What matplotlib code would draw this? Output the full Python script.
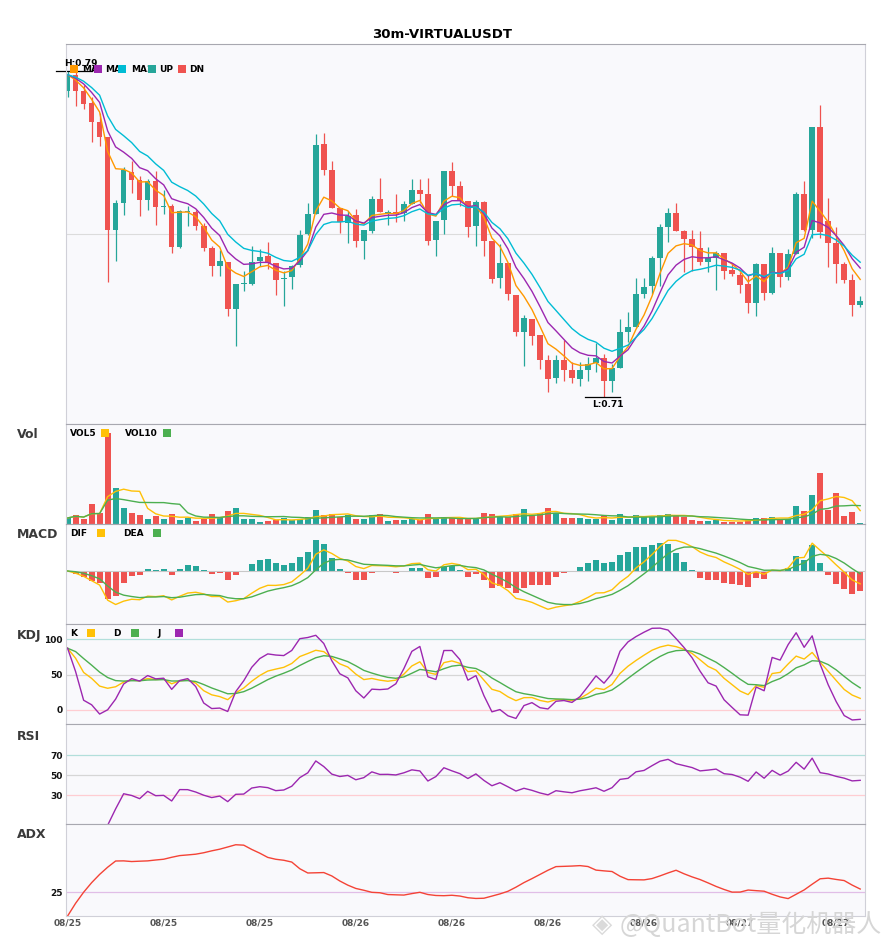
import matplotlib
matplotlib.use("Agg")
import matplotlib.pyplot as plt
from matplotlib.patches import Rectangle
from matplotlib.transforms import Bbox, TransformedBbox
from matplotlib.ticker import MultipleLocator
import numpy as np
import pandas as pd

# ---- data (30m candles) ----
symbol = "VIRTUALUSDT"
interval = "30m"
start_time = "2025-08-25 08:00"

opens = [
    .7851, .7892, .7852, .7823, .7775, .7738, .7511, .7576, .7654, .7633,
    .7584, .7630, .7567, .7569, .7469, .7554, .7556, .7520, .7467, .7423,
    .7432, .7318, .7378, .7378, .7434, .7446, .7431, .7390, .7396, .7425,
    .7500, .7549, .7723, .7659, .7564, .7529, .7547, .7484, .7508, .7586,
    .7552, .7556, .7553, .7574, .7610, .7598, .7486, .7535, .7655, .7618,
    .7583, .7520, .7579, .7484, .7393, .7431, .7352, .7261, .7292, .7253,
    .7192, .7148, .7192, .7168, .7146, .7168, .7185, .7197, .7141, .7172,
    .7260, .7272, .7353, .7374, .7443, .7518, .7552, .7508, .7488, .7466,
    .7433, .7443, .7455, .7413, .7400, .7378, .7331, .7427, .7356, .7454,
    .7396, .7451, .7598, .7512, .7764, .7533, .7478, .7427, .7388, .7327,
]
highs = [
    .7900, .7901, .7867, .7838, .7798, .7740, .7584, .7666, .7680, .7643,
    .7636, .7655, .7610, .7574, .7560, .7569, .7561, .7529, .7472, .7462,
    .7432, .7378, .7410, .7472, .7465, .7481, .7431, .7411, .7424, .7512,
    .7578, .7747, .7750, .7681, .7564, .7557, .7563, .7510, .7594, .7639,
    .7561, .7600, .7583, .7635, .7636, .7639, .7534, .7655, .7677, .7631,
    .7583, .7584, .7582, .7484, .7476, .7431, .7352, .7302, .7292, .7253,
    .7204, .7203, .7242, .7188, .7186, .7200, .7234, .7207, .7182, .7292,
    .7309, .7393, .7394, .7446, .7525, .7566, .7576, .7512, .7510, .7508,
    .7470, .7459, .7455, .7431, .7407, .7400, .7431, .7427, .7470, .7454,
    .7463, .7605, .7632, .7764, .7818, .7590, .7517, .7432, .7402, .7349,
]
lows = [
    .7837, .7814, .7809, .7726, .7716, .7384, .7435, .7547, .7602, .7545,
    .7561, .7523, .7549, .7455, .7467, .7520, .7512, .7459, .7398, .7398,
    .7300, .7227, .7361, .7375, .7423, .7416, .7352, .7325, .7366, .7419,
    .7498, .7549, .7647, .7564, .7503, .7478, .7469, .7439, .7504, .7555,
    .7522, .7530, .7534, .7574, .7578, .7473, .7447, .7500, .7594, .7569,
    .7494, .7472, .7447, .7380, .7368, .7340, .7251, .7178, .7229, .7170,
    .7114, .7136, .7139, .7136, .7129, .7141, .7163, .7101, .7113, .7172,
    .7235, .7272, .7343, .7353, .7374, .7481, .7508, .7408, .7410, .7425,
    .7408, .7364, .7390, .7398, .7356, .7307, .7300, .7339, .7353, .7372,
    .7388, .7451, .7508, .7492, .7492, .7419, .7380, .7380, .7300, .7322,
]
closes = [
    .7892, .7853, .7821, .7775, .7738, .7511, .7576, .7657, .7633, .7584,
    .7631, .7567, .7569, .7469, .7557, .7556, .7520, .7467, .7423, .7434,
    .7318, .7378, .7380, .7432, .7444, .7431, .7388, .7393, .7422, .7498,
    .7549, .7720, .7659, .7564, .7530, .7545, .7484, .7510, .7588, .7555,
    .7556, .7549, .7574, .7610, .7599, .7484, .7534, .7655, .7618, .7583,
    .7518, .7579, .7484, .7390, .7429, .7353, .7261, .7295, .7251, .7192,
    .7146, .7192, .7168, .7148, .7168, .7182, .7197, .7139, .7172, .7260,
    .7272, .7353, .7372, .7441, .7517, .7552, .7508, .7488, .7468, .7433,
    .7443, .7455, .7410, .7402, .7375, .7331, .7427, .7356, .7454, .7396,
    .7451, .7600, .7512, .7764, .7507, .7478, .7427, .7388, .7327, .7337,
]
volumes_k = [
    18, 28, 16, 61, 33, 270, 106, 49, 34, 28,
    16, 25, 16, 31, 13, 17, 10, 15, 31, 22,
    40, 49, 16, 16, 7, 10, 13, 19, 11, 15,
    22, 43, 28, 31, 20, 28, 16, 16, 28, 31,
    10, 13, 11, 15, 12, 31, 14, 22, 18, 14,
    14, 15, 34, 31, 22, 22, 31, 46, 24, 34,
    49, 34, 19, 19, 19, 16, 16, 25, 13, 31,
    16, 28, 22, 22, 28, 31, 25, 22, 13, 10,
    10, 13, 7, 7, 7, 16, 19, 19, 22, 13,
    16, 55, 40, 85, 151, 43, 91, 25, 37, 4,
]

up_col = "#26a69a"
dn_col = "#ef5350"

n = len(closes)
times = pd.date_range(start_time, periods=n, freq="30min")
df = pd.DataFrame({"open": opens, "high": highs, "low": lows,
                   "close": closes, "vol": volumes_k}, index=times)
x = np.arange(n)
o, h, l, c, v = df["open"], df["high"], df["low"], df["close"], df["vol"]

# ---- indicators ----
ma_fast = c.ewm(span=5, adjust=False).mean()
ma_mid = c.ewm(span=8, adjust=False).mean()
ma_slow = c.ewm(span=12, adjust=False).mean()

vol5 = v.rolling(5, min_periods=1).mean()
vol10 = v.rolling(10, min_periods=1).mean()

# MACD settings that fit the reference lines best
dif = c.ewm(span=6, adjust=False).mean() - c.ewm(span=13, adjust=False).mean()
dea = dif.ewm(span=5, adjust=False).mean()
hist = 2 * (dif - dea)

low9 = l.rolling(9, min_periods=1).min()
high9 = h.rolling(9, min_periods=1).max()
rsv = (c - low9) / (high9 - low9) * 100
k = rsv.ewm(com=2, adjust=False).mean()
d = k.ewm(com=2, adjust=False).mean()
j = 3 * k - 2 * d

delta = c.diff()
gain = delta.clip(lower=0)
loss = -delta.clip(upper=0)
avg_gain = gain.ewm(com=13, adjust=True).mean()
avg_loss = loss.ewm(com=13, adjust=True).mean()
rsi = 100 * avg_gain / (avg_gain + avg_loss)

prev_c = c.shift(1)
tr = pd.concat([h - l, (h - prev_c).abs(), (l - prev_c).abs()], axis=1).max(axis=1)
up_move = h.diff()
dn_move = -l.diff()
plus_dm = pd.Series(np.where((up_move > dn_move) & (up_move > 0), up_move, 0.0), index=df.index)
minus_dm = pd.Series(np.where((dn_move > up_move) & (dn_move > 0), dn_move, 0.0), index=df.index)
atr = tr.ewm(span=14, adjust=False).mean()
pdi = 100 * plus_dm.ewm(span=14, adjust=False).mean() / atr
mdi = 100 * minus_dm.ewm(span=14, adjust=False).mean() / atr
dx = (100 * (pdi - mdi).abs() / (pdi + mdi)).fillna(0)
adx = dx.ewm(span=14, adjust=False).mean()

# ---- figure ----
W, H = 885, 950
fig = plt.figure(figsize=(W / 100, H / 100), dpi=100)
LEFT, RIGHT = 66, 865


def add_panel(top, bottom, share=None):
    ax = fig.add_axes([LEFT / W, 1 - bottom / H, (RIGHT - LEFT) / W, (bottom - top) / H],
                      sharex=share)
    ax.set_facecolor("#f9f9fc")
    for s in ax.spines.values():
        s.set_color("#d0d0d8")
        s.set_linewidth(0.8)
    ax.spines["top"].set_color("#a8a8b0")
    ax.tick_params(length=0, labelbottom=False, labelleft=False)
    return ax


def px_text(xp, yp, s, size=6.5, clip_to=None, **kw):
    t = fig.text(xp / W, 1 - yp / H, s, va="center", ha="left", fontsize=size,
                 fontweight="bold", zorder=9, **kw)
    if clip_to is not None:
        # the next legend swatch sits on top of the label, as in the original
        t.set_clip_box(TransformedBbox(Bbox.from_extents(xp / W, 0, clip_to / W, 1),
                                       fig.transFigure))
        t.set_clip_on(True)
    return t


def px_box(xp, yp, color, size=8):
    fig.add_artist(Rectangle((xp / W, 1 - (yp + size / 2) / H), size / W, size / H,
                             transform=fig.transFigure, facecolor=color,
                             edgecolor="none", zorder=10))


colors = np.where(c >= o, up_col, dn_col)

# price panel
ax_p = add_panel(44, 424)
ax_p.set_xlim(-0.2, 99.6)
ax_p.vlines(x, l, h, colors=colors, lw=0.9)
body = (c - o).abs().clip(lower=0.0003)
ax_p.bar(x, body, bottom=np.minimum(o, c), width=0.7, color=colors)
ax_p.plot(x, ma_fast, color="#ff9800", lw=1.0)
ax_p.plot(x, ma_mid, color="#9c27b0", lw=1.0)
ax_p.plot(x, ma_slow, color="#00bcd4", lw=1.0)
hi, lo = h.max(), l.min()
pad = (hi - lo) * 0.083
ax_p.set_ylim(lo - pad, hi + pad)
ax_p.yaxis.set_major_locator(MultipleLocator(0.05))
ax_p.grid(axis="y", color="#dcdcdc", lw=0.8)
ax_p.set_axisbelow(True)
ih, il = int(h.values.argmax()), int(l.values.argmin())
ax_p.plot([ih - 2.4, ih + 2.1], [hi, hi], color="black", lw=0.9, clip_on=False)
ax_p.annotate(f"H:{hi:.2f}", (ih + 0.65, hi), xytext=(0, 2), textcoords="offset points",
              ha="center", va="bottom", fontsize=6.5, fontweight="bold", annotation_clip=False)
ax_p.plot([il - 2.4, il + 2.0], [lo, lo], color="black", lw=0.9, clip_on=False)
ax_p.annotate(f"L:{lo:.2f}", (il + 0.46, lo), xytext=(0, -2), textcoords="offset points",
              ha="center", va="top", fontsize=6.5, fontweight="bold", annotation_clip=False)

# volume panel
ax_v = add_panel(424, 524, ax_p)
ax_v.bar(x, v, width=0.75, color=colors)
ax_v.plot(x, vol5, color="#ffc107", lw=1.0)
ax_v.plot(x, vol10, color="#4caf50", lw=1.0)
ax_v.set_ylim(0, v.max() * 1.104)

# MACD panel
ax_m = add_panel(524, 624, ax_p)
ax_m.axhline(0, color="#c8c8c8", lw=0.8)
ax_m.bar(x, hist, width=0.75, color=np.where(hist >= 0, up_col, dn_col))
ax_m.plot(x, dif, color="#ffc107", lw=1.0)
ax_m.plot(x, dea, color="#4caf50", lw=1.0)
ax_m.set_ylim(-0.0132, 0.0117)

# KDJ panel
ax_k = add_panel(624, 724, ax_p)
ax_k.axhline(100, color="#b2dfdb", lw=0.9)
ax_k.axhline(50, color="#d6d6d6", lw=0.9)
ax_k.axhline(0, color="#ffcdd2", lw=0.9)
ax_k.plot(x, k, color="#ffc107", lw=1.0)
ax_k.plot(x, d, color="#4caf50", lw=1.0)
ax_k.plot(x, j, color="#9c27b0", lw=1.0)
ax_k.set_ylim(-19.8, 121.6)
ax_k.set_yticks([0, 50, 100])

# RSI panel
ax_r = add_panel(724, 824, ax_p)
ax_r.axhline(70, color="#b2dfdb", lw=0.9)
ax_r.axhline(50, color="#d6d6d6", lw=0.9)
ax_r.axhline(30, color="#ffcdd2", lw=0.9)
ax_r.plot(x, rsi, color="#9c27b0", lw=1.0)
ax_r.set_ylim(1.3, 101.3)
ax_r.set_yticks([30, 50, 70])

# ADX panel
ax_a = add_panel(824, 916, ax_p)
ax_a.axhline(25, color="#e1bee7", lw=0.9)
ax_a.plot(x, adx, color="#f44336", lw=1.0)
ax_a.set_ylim(0, 96.4)
ax_a.set_yticks([25])

for ax in (ax_k, ax_r, ax_a):
    ax.tick_params(axis="y", labelleft=True, labelsize=6.5, pad=2.5, labelcolor="#111111")
    for lab in ax.get_yticklabels():
        lab.set_fontweight("bold")

tick_idx = list(range(0, n, 12))
ax_a.set_xticks(tick_idx)
ax_a.set_xticklabels([times[i].strftime("%m/%d") for i in tick_idx])
ax_a.tick_params(axis="x", labelbottom=True, labelsize=6.5, pad=2, labelcolor="#555555")
for lab in ax_a.get_xticklabels():
    lab.set_fontweight("bold")

# title, panel names, legends
fig.text(0.5, 1 - 34 / H, f"{interval}-{symbol}", ha="center", va="center",
         fontsize=9.5, fontweight="bold")
for name, yp in [("Vol", 435), ("MACD", 535), ("KDJ", 635), ("RSI", 736), ("ADX", 835)]:
    px_text(17, yp, name, size=9, color="#3a3a3a")

legend_main = [(81.7, 70, "MA5", "#ff9800"), (105, 94, "MA10", "#9c27b0"),
               (131, 118, "MA20", "#00bcd4"), (159, 148, "UP", up_col),
               (189, 178, "DN", dn_col)]
for i, (tx, bx, label, col) in enumerate(legend_main):
    nxt = legend_main[i + 1][1] if i + 1 < len(legend_main) else None
    px_text(tx, 69.3, label, clip_to=nxt)
    px_box(bx, 69.3, col)

for tx, label in [(70, "VOL5"), (125, "VOL10")]:
    px_text(tx, 433.3, label)
px_box(101, 433.3, "#ffc107")
px_box(163, 433.3, "#4caf50")

for tx, label in [(70, "DIF"), (123, "DEA")]:
    px_text(tx, 533.3, label)
px_box(97, 533.3, "#ffc107")
px_box(153, 533.3, "#4caf50")

for tx, label in [(70, "K"), (113, "D"), (157, "J")]:
    px_text(tx, 633.3, label)
px_box(87, 633.3, "#ffc107")
px_box(131, 633.3, "#4caf50")
px_box(175, 633.3, "#9c27b0")

# watermark
fig.text(602 / W, 1 - 925 / H, "\u25c8", ha="center", va="center", fontsize=19,
         color="#dadada", zorder=8)
fig.text(620 / W, 1 - 925 / H, "@QuantBot量化机器人", ha="left", va="center", fontsize=18,
         color="#d6d6d6", family=["Noto Sans CJK SC", "DejaVu Sans"], zorder=8)

fig.savefig("out.png", dpi=100)
